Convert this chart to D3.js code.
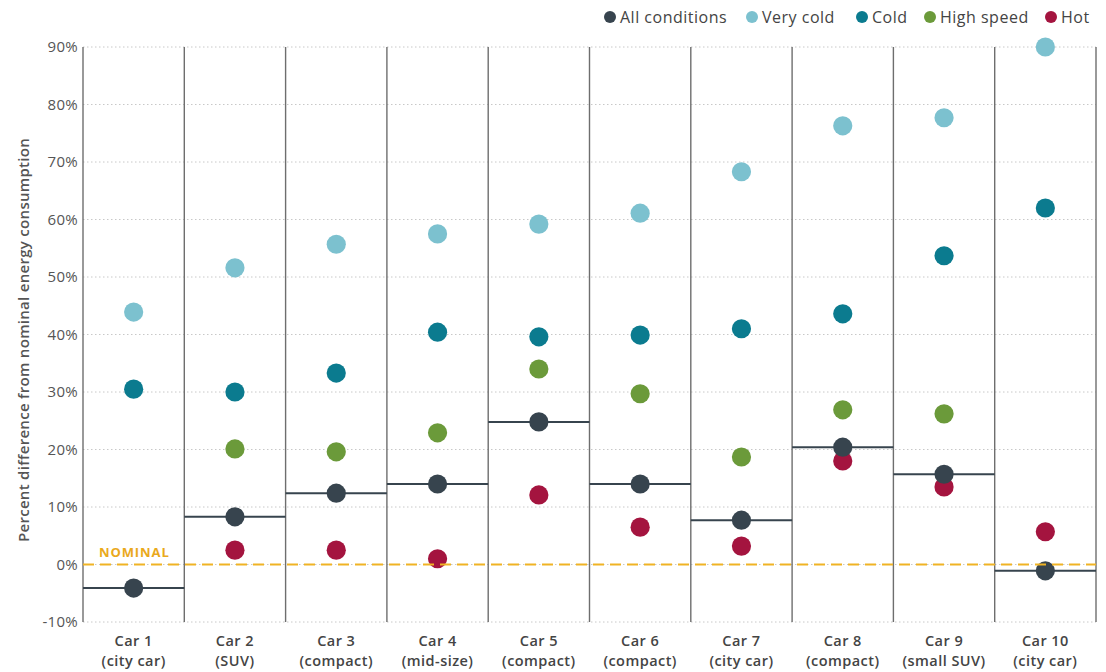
<!DOCTYPE html>
<html>
<head>
<meta charset="utf-8">
<script src="https://cdn.jsdelivr.net/npm/d3@7"></script>
<style>
  html, body { margin: 0; padding: 0; background: #fff; }
  svg { display: block; font-family: "Open Sans", "Lato", sans-serif; }
</style>
</head>
<body>
<svg id="chart" width="1106" height="672"></svg>
<script>
// ---- Data ----
const cars = ["Car 1", "Car 2", "Car 3", "Car 4", "Car 5", "Car 6", "Car 7", "Car 8", "Car 9", "Car 10"];
const carTypes = ["(city car)", "(SUV)", "(compact)", "(mid-size)", "(compact)", "(compact)", "(city car)", "(compact)", "(small SUV)", "(city car)"];
const allConditions = [-4.1, 8.3, 12.4, 14.0, 24.8, 14.0, 7.7, 20.4, 15.7, -1.1];
const veryCold      = [43.9, 51.6, 55.7, 57.5, 59.2, 61.1, 68.3, 76.3, 77.7, 90.0];
const cold          = [30.5, 30.0, 33.3, 40.4, 39.6, 39.9, 41.0, 43.6, 53.7, 62.0];
const highSpeed     = [null, 20.1, 19.6, 22.9, 34.0, 29.7, 18.7, 26.9, 26.2, null];
const hot           = [null, 2.5, 2.5, 1.0, 12.1, 6.5, 3.2, 18.0, 13.5, 5.7];
const yTicks = [-10, 0, 10, 20, 30, 40, 50, 60, 70, 80, 90];
const seriesNames = ["All conditions", "Very cold", "Cold", "High speed", "Hot"];
const seriesColors = ["#37444e", "#7cc1cf", "#0b7b8f", "#6b9a3a", "#a4143f"];

// ---- Layout ----
const svg = d3.select("#chart");
const pLeft = 83, pRight = 1096, pTop = 47, pBottom = 622;

const x = d3.scaleBand().domain(cars).range([pLeft, pRight]).padding(0);
const y = d3.scaleLinear().domain([-10, 90]).range([pBottom, pTop]);

// gridlines
svg.append("g").selectAll("line").data(yTicks).join("line")
  .attr("x1", pLeft).attr("x2", pRight)
  .attr("y1", d => y(d)).attr("y2", d => y(d))
  .attr("stroke", "#c8c8c8").attr("stroke-width", 1)
  .attr("stroke-dasharray", "1.5,2.5");

// y tick labels
svg.append("g").selectAll("text").data(yTicks).join("text")
  .attr("x", 78).attr("y", d => y(d)).attr("dy", "0.35em")
  .attr("text-anchor", "end")
  .attr("font-size", 15).attr("fill", "#555")
  .attr("letter-spacing", 0.3)
  .text(d => d + "%");

// y axis title
svg.append("text")
  .attr("transform", `translate(29,340) rotate(-90)`)
  .attr("text-anchor", "middle")
  .attr("font-size", 15).attr("font-weight", 600).attr("fill", "#555")
  .attr("letter-spacing", 0.3)
  .text("Percent difference from nominal energy consumption");

// vertical separators
const bounds = cars.map(c => x(c)).concat([x(cars[cars.length - 1]) + x.bandwidth()]);
svg.append("g").selectAll("line").data(bounds).join("line")
  .attr("x1", d => d).attr("x2", d => d)
  .attr("y1", pTop).attr("y2", pBottom)
  .attr("stroke", "#6e6e6e").attr("stroke-width", 1.4);

// x labels (two separate text lines)
const xg = svg.append("g").attr("font-size", 14.5).attr("font-weight", 600)
  .attr("fill", "#444").attr("letter-spacing", 0.45).attr("text-anchor", "middle");
xg.selectAll("text.l1").data(cars).join("text").attr("class", "l1")
  .attr("x", d => x(d) + x.bandwidth() / 2).attr("y", 646).text(d => d);
xg.selectAll("text.l2").data(cars).join("text").attr("class", "l2")
  .attr("x", d => x(d) + x.bandwidth() / 2).attr("y", 666).text((d, i) => carTypes[i]);

// all-conditions horizontal lines
svg.append("g").selectAll("line").data(cars).join("line")
  .attr("x1", d => x(d)).attr("x2", d => x(d) + x.bandwidth())
  .attr("y1", (d, i) => y(allConditions[i])).attr("y2", (d, i) => y(allConditions[i]))
  .attr("stroke", seriesColors[0]).attr("stroke-width", 2);

// dots
const r = 9.6;
const drawOrder = [
  [veryCold, seriesColors[1]],
  [cold, seriesColors[2]],
  [highSpeed, seriesColors[3]],
  [hot, seriesColors[4]],
  [allConditions, seriesColors[0]]
];
drawOrder.forEach(([vals, col]) => {
  svg.append("g").selectAll("circle")
    .data(cars.map((c, i) => ({ c, v: vals[i] })).filter(d => d.v !== null))
    .join("circle")
    .attr("cx", d => x(d.c) + x.bandwidth() / 2)
    .attr("cy", d => y(d.v))
    .attr("r", r)
    .attr("fill", col);
});

// nominal line
svg.append("line")
  .attr("x1", pLeft).attr("x2", pRight)
  .attr("y1", y(0)).attr("y2", y(0))
  .attr("stroke", "#f0b324").attr("stroke-width", 2)
  .attr("stroke-dasharray", "11,6");
svg.append("text")
  .attr("x", 99).attr("y", y(0) - 8)
  .attr("font-size", 13).attr("font-weight", 700).attr("fill", "#eaa91c")
  .attr("letter-spacing", 0.9)
  .text("NOMINAL");

// legend
const legendX = [610, 752, 862, 930, 1051];
const lg = svg.append("g").selectAll("g").data(seriesNames).join("g")
  .attr("transform", (d, i) => `translate(${legendX[i]},17)`);
lg.append("circle").attr("r", 6).attr("fill", (d, i) => seriesColors[i]);
lg.append("text").attr("x", 10).attr("dy", "0.35em")
  .attr("font-size", 16).attr("fill", "#444")
  .attr("letter-spacing", 0.5).text(d => d);
</script>
</body>
</html>
